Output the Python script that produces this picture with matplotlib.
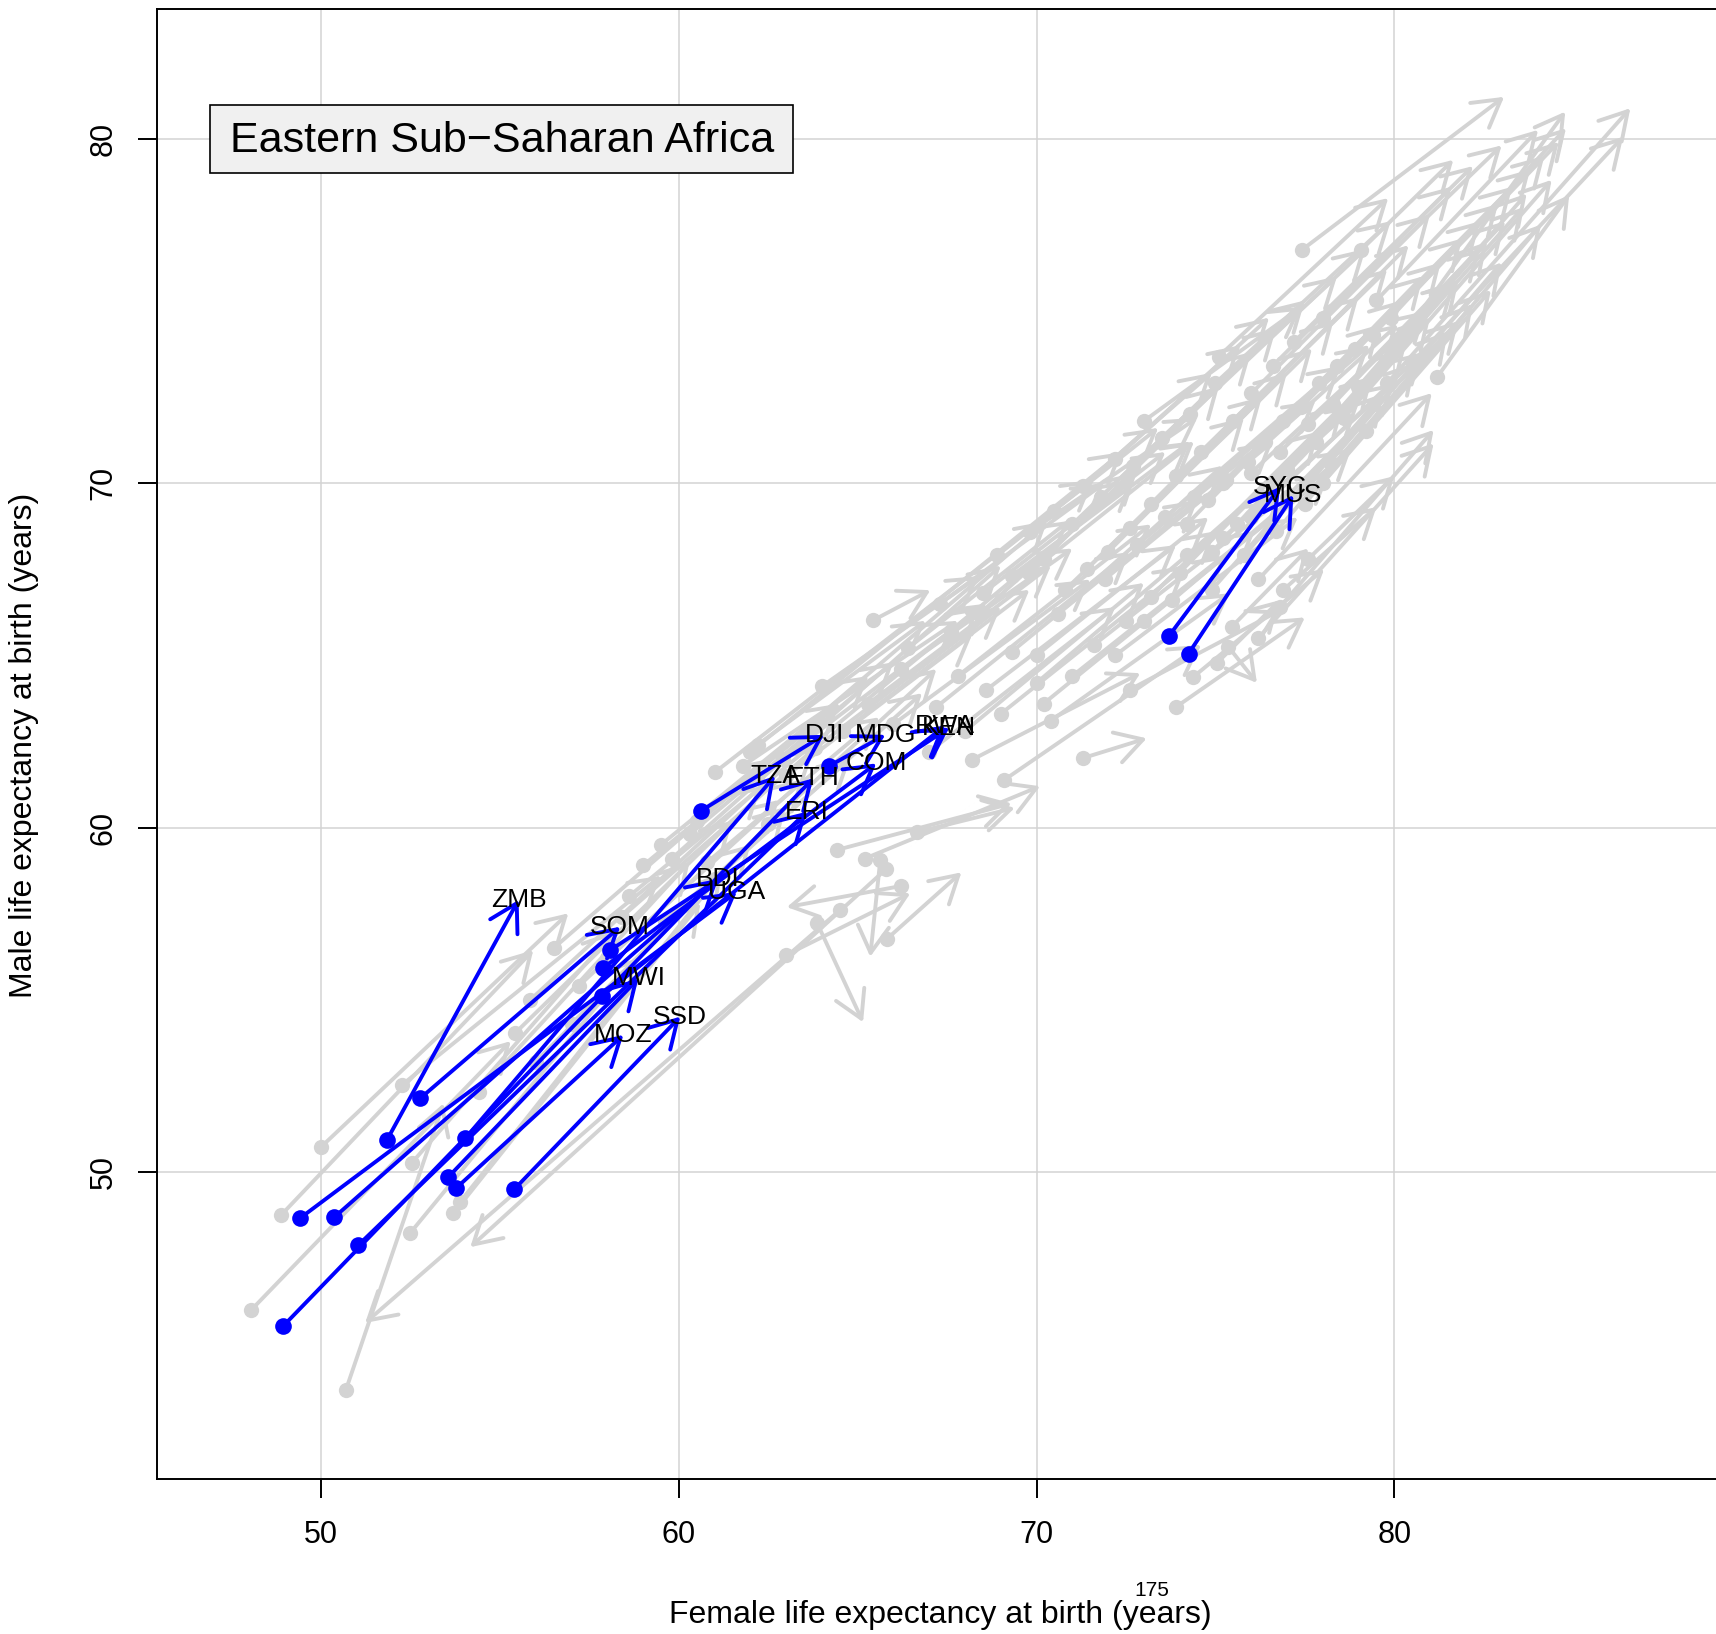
import matplotlib
matplotlib.use("Agg")
import matplotlib.pyplot as plt
from matplotlib.patches import FancyArrowPatch, ArrowStyle, Rectangle

plt.rcParams['font.family'] = ['Liberation Sans', 'DejaVu Sans']

# ---------------- data ----------------
region_name = "Eastern Sub\u2212Saharan Africa"
x_label = "Female life expectancy at birth (years)"
y_label = "Male life expectancy at birth (years)"
page_number = "175"
x_ticks = [50, 60, 70, 80]
y_ticks = [50, 60, 70, 80]

country_codes = ["ZMB", "SOM", "MWI", "SSD", "MOZ", "BDI", "UGA", "ERI", "TZA",
                 "ETH", "DJI", "MDG", "COM", "RWA", "KEN", "SYC", "MUS"]
female_start = [51.84, 52.77, 53.56, 55.40, 53.77, 50.37, 49.41, 51.04, 54.03,
                48.93, 60.61, 64.19, 57.89, 57.85, 58.08, 73.70, 74.25]
male_start = [50.93, 52.14, 49.86, 49.50, 49.53, 48.69, 48.66, 47.88, 50.98,
              45.52, 60.48, 61.78, 55.93, 55.12, 56.44, 65.56, 65.05]
female_end = [55.52, 58.36, 58.87, 60.04, 58.45, 61.10, 61.62, 63.58, 62.69,
              63.76, 64.06, 65.77, 65.52, 67.45, 67.56, 76.81, 77.18]
male_end = [57.90, 57.12, 55.62, 54.51, 53.98, 58.51, 58.13, 60.46, 61.50,
            61.43, 62.69, 62.69, 61.86, 62.96, 62.90, 69.89, 69.65]

# all other countries (grey)
gray_female_start = [
    48.04, 48.88, 50.00, 50.69, 52.49, 52.26, 52.53, 53.70, 53.89, 55.42, 54.40,
    55.84, 57.00, 56.50, 58.40, 59.00, 59.50, 60.30, 61.00, 62.50, 61.80, 62.90,
    65.80, 64.50, 63.86, 65.63, 66.20, 63.00, 66.67, 71.31, 68.20, 65.81, 64.42,
    65.20, 69.08, 70.40,
    65.44, 66.00, 67.20, 67.80, 68.60, 69.30, 70.00, 68.40, 63.00, 63.80, 64.60,
    65.30, 62.20, 66.20, 64.00,
    61.00, 62.00, 60.50, 59.80, 58.60,
    74.38, 75.04, 75.36, 75.46, 76.20, 73.90, 72.60, 76.90, 77.60,
    74.2, 74.8, 75.3, 75.9, 76.4, 76.9, 77.4, 77.9, 78.4, 78.9, 79.4, 79.9,
    76.0, 76.6, 77.2, 78.0, 75.5, 74.6, 73.9, 73.2, 72.6, 72.0, 71.4, 70.8,
    70.2, 71.0, 71.8, 72.7, 73.5, 74.3, 75.0, 75.09, 77.41, 79.07, 81.2, 80.5,
    79.8, 80.2, 79.5, 78.6, 77.8, 77.0, 76.3, 75.6, 74.9, 74.0, 73.2, 72.5,
    76.2, 76.8, 73.0, 78.2, 77.5, 76.7, 75.8, 74.9, 79.2, 72.2, 71.3, 70.5,
    69.82, 69.3, 68.5, 67.6,
    67.0, 68.0, 69.0, 70.2, 71.0, 71.6, 72.2, 73.0, 73.8, 70.6, 69.8, 68.9,
    67.3, 66.4, 71.9, 72.8, 73.6, 74.4, 75.2, 76.0, 76.8, 77.6, 78.3, 79.0,
    74.2, 75.2, 76.0, 77.0, 78.0, 70.0,
    56.0, 57.2, 58.0, 59.6, 60.8,
]
gray_male_start = [
    45.99, 48.75, 50.73, 43.67, 48.23, 52.53, 50.26, 48.80, 49.14, 54.03, 52.33,
    54.99, 54.30, 56.50, 57.40, 58.90, 59.50, 59.80, 58.50, 60.10, 61.80, 62.00,
    58.80, 57.60, 57.24, 59.05, 58.30, 56.30, 59.87, 62.02, 61.97, 56.76, 59.35,
    59.10, 61.37, 63.10,
    66.02, 63.00, 63.50, 64.40, 64.00, 65.10, 64.20, 66.20, 61.50, 62.30, 62.80,
    63.60, 62.40, 64.60, 64.10,
    61.60, 62.20, 60.20, 59.10, 58.00,
    64.37, 64.77, 65.25, 65.83, 65.50, 63.50, 64.00, 66.90, 67.80,
    68.8, 69.5, 70.1, 70.6, 71.2, 71.8, 72.2, 72.9, 73.4, 73.9, 74.3, 74.8,
    72.6, 73.4, 74.1, 74.8, 71.8, 70.9, 70.2, 69.4, 68.7, 68.0, 67.5, 66.9,
    67.8, 68.8, 69.6, 70.5, 71.3, 72.0, 72.9, 73.67, 76.76, 76.76, 73.08, 73.5,
    72.9, 74.2, 75.3, 71.9, 71.2, 70.4, 69.6, 68.8, 68.0, 67.4, 66.7, 66.0,
    67.2, 66.4, 71.8, 70.6, 69.4, 68.6, 67.9, 66.9, 71.5, 70.7, 69.9, 69.2,
    68.59, 67.3, 66.8, 65.7,
    62.2, 62.8, 63.3, 63.6, 64.4, 65.3, 65.0, 66.0, 66.6, 66.2, 67.4, 67.9,
    66.5, 65.2, 67.2, 68.2, 69.0, 69.6, 70.0, 70.3, 70.9, 71.7, 72.3, 72.8,
    67.9, 68.4, 69.0, 69.6, 70.0, 65.0,
    53.2, 55.4, 56.2, 57.3, 59.0,
]
gray_female_end = [
    55.30, 55.93, 56.91, 53.42, 58.80, 59.50, 58.20, 60.60, 61.20, 61.50, 60.30,
    62.30, 63.00, 62.60, 63.80, 64.50, 65.30, 66.00, 66.80, 67.20, 67.80, 68.60,
    54.17, 51.23, 65.15, 65.35, 63.02, 66.47, 69.39, 73.08, 72.90, 67.90, 69.30,
    70.10, 74.60, 75.40,
    67.03, 71.50, 72.60, 73.20, 73.90, 74.50, 75.00, 72.80, 68.20, 69.00, 69.80,
    70.40, 66.90, 71.00, 68.40,
    71.60, 72.40, 70.30, 69.00, 68.40,
    78.04, 76.80, 76.16, 77.60, 81.10, 77.50, 76.80, 79.50, 80.00,
    79.6, 80.2, 80.8, 81.3, 81.9, 82.4, 82.9, 83.3, 83.8, 84.2, 84.6, 84.8,
    81.0, 81.6, 82.2, 83.0, 80.4, 79.8, 79.0, 78.3, 77.7, 77.0, 76.3, 75.8,
    75.1, 76.0, 76.7, 77.5, 78.4, 79.2, 79.9, 79.83, 83.07, 81.65, 84.89, 86.4,
    86.6, 84.78, 84.02, 84.4, 83.6, 82.6, 81.8, 81.0, 80.3, 79.4, 78.6, 77.9,
    81.05, 81.1, 77.41, 83.0, 82.2, 81.5, 80.6, 79.7, 84.1, 76.5, 75.7, 74.9,
    74.5, 74.3, 73.6, 72.7,
    72.2, 73.0, 74.2, 75.3, 76.1, 76.8, 77.3, 78.2, 78.8, 75.2, 74.4, 73.4,
    71.9, 70.9, 76.6, 77.8, 78.5, 79.3, 80.1, 80.9, 81.7, 82.4, 83.1, 83.7,
    79.0, 80.0, 80.8, 81.8, 82.7, 74.8,
    62.0, 62.8, 63.5, 64.8, 65.6,
]
gray_male_end = [
    53.80, 56.44, 57.51, 51.99, 56.20, 58.60, 57.00, 57.80, 58.70, 60.20, 59.00,
    61.20, 60.60, 62.00, 62.30, 63.60, 64.40, 64.80, 63.90, 64.60, 66.00, 66.50,
    47.82, 45.62, 54.35, 56.25, 57.69, 58.09, 60.57, 62.59, 64.48, 58.70, 60.70,
    61.20, 65.30, 66.80,
    66.89, 67.20, 68.00, 68.80, 68.20, 69.50, 68.60, 70.30, 65.60, 66.40, 66.90,
    67.60, 66.00, 68.10, 67.30,
    70.10, 70.90, 68.90, 67.60, 66.40,
    67.50, 66.60, 64.20, 68.10, 71.15, 66.10, 66.30, 69.30, 70.20,
    74.6, 75.3, 76.0, 76.4, 77.1, 77.6, 78.1, 78.6, 79.1, 79.5, 79.9, 80.3,
    77.8, 78.6, 79.2, 79.8, 76.9, 76.2, 75.4, 74.7, 73.9, 73.2, 72.5, 71.9,
    72.8, 73.8, 74.5, 75.3, 76.0, 76.8, 77.6, 78.27, 81.21, 79.38, 78.36, 80.05,
    80.88, 80.78, 80.25, 78.8, 78.0, 77.0, 75.9, 74.8, 73.9, 73.1, 72.3, 71.5,
    72.61, 71.54, 75.12, 76.4, 75.2, 74.4, 73.5, 72.6, 77.5, 74.8, 74.0, 73.2,
    71.9, 71.2, 70.9, 70.1,
    66.4, 67.1, 67.6, 67.9, 68.6, 69.5, 69.0, 70.3, 71.0, 70.5, 71.2, 71.6,
    70.0, 68.9, 71.2, 72.4, 73.4, 74.0, 74.6, 75.0, 75.8, 76.8, 77.6, 78.4,
    72.3, 72.9, 73.8, 74.7, 75.6, 69.0,
    59.5, 60.8, 61.4, 62.0, 63.2,
]

# ---------------- figure ----------------
W, H = 1716, 1634
fig = plt.figure(figsize=(W / 100, H / 100), dpi=100)
ax = fig.add_axes([157.3 / W, 1 - 1479 / H, (1723 - 157.3) / W, (1479 - 9) / H])
ax.set_xlim(45.42, 89.19)
ax.set_ylim(41.09, 83.76)

grey = '#D3D3D3'
blue = '#0000FF'
style = ArrowStyle('->', head_length=19.3, head_width=11.2)
LW = 2.8

ax.set_xticks(x_ticks)
ax.set_yticks(y_ticks)
ax.set_axisbelow(True)
ax.grid(True, color=grey, lw=1.1, zorder=0)

for x0, y0, x1, y1 in zip(gray_female_start, gray_male_start, gray_female_end, gray_male_end):
    ax.add_patch(FancyArrowPatch((x0, y0), (x1, y1), arrowstyle=style, mutation_scale=1,
                                 shrinkA=0, shrinkB=0, color=grey, lw=LW,
                                 capstyle='round', joinstyle='round', zorder=2))
ax.plot(gray_female_start, gray_male_start, 'o', color=grey, ms=11, mew=0, zorder=2.5)

for x0, y0, x1, y1 in zip(female_start, male_start, female_end, male_end):
    ax.add_patch(FancyArrowPatch((x0, y0), (x1, y1), arrowstyle=style, mutation_scale=1,
                                 shrinkA=0, shrinkB=0, color=blue, lw=LW,
                                 capstyle='round', joinstyle='round', zorder=3))
ax.plot(female_start, male_start, 'o', color=blue, ms=12, mew=0, zorder=3.5)

for code, x1, y1 in zip(country_codes, female_end, male_end):
    ax.text(x1, y1, code, ha='center', va='center', fontsize=19, color='black', zorder=4)

# legend box
ax.add_patch(Rectangle((46.90, 79.0), 16.30, 1.97, facecolor='#F0F0F0',
                       edgecolor='black', lw=1.2, zorder=5))
ax.text(47.46, 79.93, region_name, ha='left', va='center', fontsize=31, zorder=6)

for s in ax.spines.values():
    s.set_linewidth(1.4)
ax.tick_params(axis='both', length=13.7, width=1.4, labelsize=22, direction='out')
ax.tick_params(axis='x', pad=16)
ax.tick_params(axis='y', pad=14)
for lab in ax.get_yticklabels():
    lab.set_rotation(90)
    lab.set_va('center')

fig.text(940 / W, 1 - 1615 / H, x_label, ha='center', va='center', fontsize=23)
fig.text(24 / W, 1 - 745 / H, y_label, rotation=90, ha='center', va='center', fontsize=23)
fig.text(1152 / W, 1 - 1590 / H, page_number, ha='center', va='center', fontsize=15)

fig.savefig('out.png', dpi=100)
